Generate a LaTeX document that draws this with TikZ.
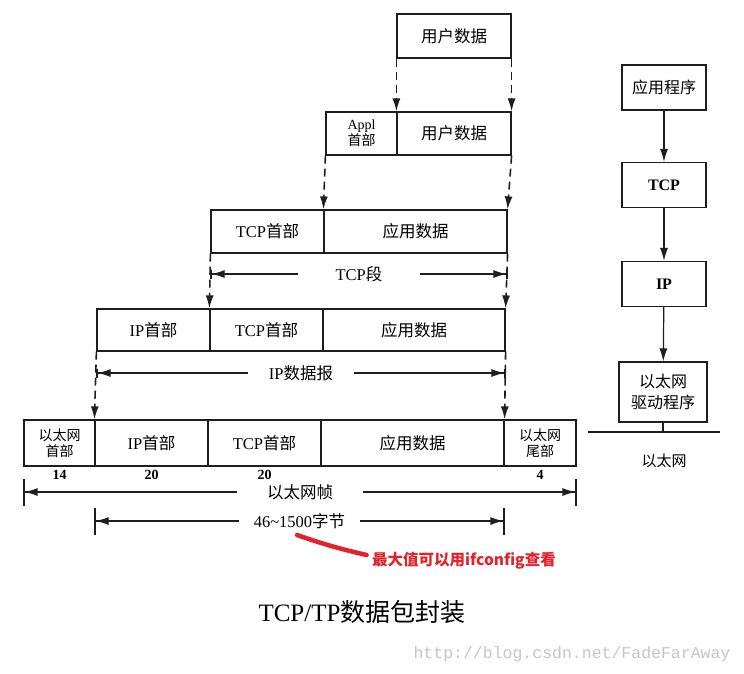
\documentclass[tikz,border=0pt]{standalone}
\usepackage{fontspec}
\setmainfont{Liberation Serif}
\setmonofont{Liberation Mono}
\newfontfamily\zh{Noto Sans CJK SC}
\usetikzlibrary{arrows.meta,positioning}
\definecolor{ink}{HTML}{1E1E1E}
\definecolor{note}{HTML}{E2232C}
\definecolor{wmark}{HTML}{C6C6C6}
\tikzset{
  >={Latex[length=13pt,width=8pt]},
  every picture/.style={line width=1.2pt,draw=ink},
  fld/.style={draw=ink,inner sep=0pt,align=center,font=\fontsize{16.5}{17}\selectfont},
  fldsm/.style={fld,font=\fontsize{14}{16}\selectfont},
  lay/.style={draw=ink,inner sep=0pt,align=center,minimum width=84pt,minimum height=45pt,font=\fontsize{16}{21}\selectfont},
  guide/.style={->,draw=ink,line width=1.6pt,dash pattern=on 8pt off 5pt},
  dimline/.style={{Bar[width=#1]Latex[length=13pt,width=8pt]}-{Latex[length=13pt,width=8pt]Bar[width=#1]},draw=ink},
  dimline/.default=9pt,
  dimlab/.style={fill=white,inner ysep=2pt,font=\fontsize{16.5}{17}\selectfont},
  num/.style={inner sep=1pt,font=\bfseries\fontsize{14}{14}\selectfont},
}
\begin{document}
\begin{tikzpicture}[x=1pt,y=-1pt]
  \useasboundingbox[fill=white] (0,0) rectangle (744,673);
  % encapsulation rows
  \foreach \n/\s/\l/\r/\y/\h/\t in {
    ud1/fld/397/511/36/44/{\zh 用户数据},
    ah2/fldsm/326/397/133.5/43/{Appl\\{\zh 首部}},
    ud2/fld/397/511/133.5/43/{\zh 用户数据},
    th3/fld/211/324/231.5/43/{TCP{\zh 首部}},
    ad3/fld/324/507/231.5/43/{\zh 应用数据},
    ih4/fld/97/210/330/42/{IP{\zh 首部}},
    th4/fld/210/323/330/42/{TCP{\zh 首部}},
    ad4/fld/323/505/330/42/{\zh 应用数据},
    eh5/fldsm/24/95/443/46/{{\zh 以太网}\\{\zh 首部}},
    ih5/fld/95/208/443/46/{IP{\zh 首部}},
    th5/fld/208/321/443/46/{TCP{\zh 首部}},
    ad5/fld/321/504/443/46/{\zh 应用数据},
    et5/fldsm/504/576/443/46/{{\zh 以太网}\\{\zh 尾部}}}
    \node[\s,minimum width={(\r-\l)*1pt},minimum height={\h*1pt}] (\n) at ({(\l+\r)/2},\y) {\t};
  \draw[guide] (ud1.south west) -- (ud2.north west);
  \draw[guide] (ud1.south east) -- (ud2.north east);
  \draw[guide] (ah2.south west) -- (ad3.north west);
  \draw[guide] (ud2.south east) -- (ad3.north east);
  \draw[guide] (th3.south west) -- (th4.north west);
  \draw[guide] (ad3.south east) -- (ad4.north east);
  \draw[guide] (ih4.south west) -- (ih5.north west);
  \draw[guide] (ad4.south east) -- (ad5.north east);
  % sizes
  \node[num,below=2pt of eh5] (n14) {14};
  \node[num,below=2pt of ih5] (n20a) {20};
  \node[num,below=2pt of th5] (n20b) {20};
  \node[num,below=2pt of et5] (n4) {4};
  \coordinate (segL) at (th3.south west |- 0,274);
  \coordinate (segR) at (ad3.south east |- 0,274);
  \coordinate (dgrL) at (ih4.south west |- 0,373);
  \coordinate (dgrR) at (ad4.south east |- 0,373);
  \coordinate (frmL) at (eh5.south west |- 0,492);
  \coordinate (frmR) at (et5.south east |- 0,492);
  \coordinate (payL) at (ih5.south west |- 0,521);
  \coordinate (payR) at (ad5.south east |- 0,521);
  \draw[dimline] (segL) -- node[dimlab,inner xsep=38pt] (seg) {TCP{\zh 段}} (segR);
  \draw[dimline] (dgrL) -- node[dimlab,inner xsep=21pt] (dgr) {IP{\zh 数据报}} (dgrR);
  \draw[dimline=27pt] (frmL) -- node[dimlab,inner xsep=30pt] (frm) {\zh 以太网帧} (frmR);
  \draw[dimline=27pt] (payL) -- node[dimlab,inner xsep=15pt] (pay) {46\textasciitilde1500{\zh 字节}} (payR);
  % remark
  \node[text=note,inner sep=0pt,font=\zh\bfseries\fontsize{15.5}{16}\selectfont] (rem) at (464,561) {最大值可以用ifconfig查看};
  \coordinate (remT) at (297,535);
  \draw[note,line width=4.5pt,line cap=round] (remT) to[bend right=3] ([xshift=-5pt,yshift=6pt]rem.west);
  % protocol stack
  \node[lay] (app) at (664,87.5) {\zh 应用程序};
  \node[lay,font=\bfseries\fontsize{16}{21}\selectfont] (tcp) at (664,185) {TCP};
  \node[lay,font=\bfseries\fontsize{16}{21}\selectfont] (ip) at (664,284) {IP};
  \node[lay,minimum width=88pt,minimum height=60pt] (drv) at (663,392) {{\zh 以太网}\\{\zh 驱动程序}};
  \draw[->] (app) -- (tcp);
  \draw[->] (tcp) -- (ip);
  \draw[->] (ip) -- (drv);
  \coordinate (busL) at (588,432);
  \coordinate (busR) at (720,432);
  \draw[line width=2.6pt] (busL) -- (busR);
  \draw (drv.south) -- (drv.south |- busL);
  \node[font=\zh\fontsize{15}{15}\selectfont] (eth) at (664,461) {以太网};
  % caption
  \node[font=\fontsize{25}{26}\selectfont] (cap) at (362,612) {TCP/TP{\zh 数据包封装}};
  \node[text=wmark,font=\ttfamily\fontsize{16.5}{17}\selectfont] (wm) at (572,654) {http://blog.csdn.net/FadeFarAway};
\end{tikzpicture}
\end{document}
